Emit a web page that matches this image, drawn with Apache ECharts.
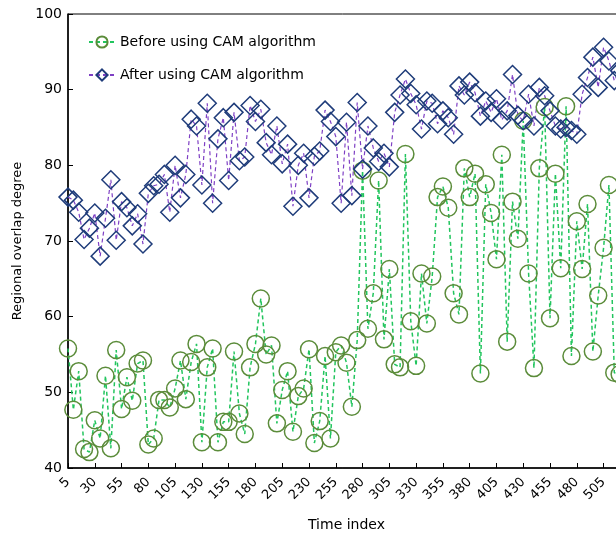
<!DOCTYPE html>
<html>
<head>
<meta charset="utf-8">
<script src="https://cdn.jsdelivr.net/npm/echarts@6/dist/echarts.min.js"></script>
<style>html,body{margin:0;padding:0;background:#fff}#c{width:616px;height:533px}</style>
</head>
<body>
<div id="c"></div>
<script>
var timeIndex = ['5','10','15','20','25','30','35','40','45','50','55','60','65','70','75','80','85','90','95','100',
'105','110','115','120','125','130','135','140','145','150','155','160','165','170','175','180','185','190','195','200',
'205','210','215','220','225','230','235','240','245','250','255','260','265','270','275','280','285','290','295','300',
'305','310','315','320','325','330','335','340','345','350','355','360','365','370','375','380','385','390','395','400',
'405','410','415','420','425','430','435','440','445','450','455','460','465','470','475','480','485','490','495','500',
'505','510','515','520','525'];

var beforeCAM = [55.8,47.7,52.8,42.5,42.1,46.3,43.9,52.2,42.6,55.6,47.8,52.0,48.9,53.8,54.2,43.1,43.9,49.0,49.0,48.0,
50.5,54.2,49.1,54.0,56.4,43.4,53.3,55.8,43.4,46.1,46.1,55.4,47.2,44.5,53.3,56.4,62.4,55.0,56.2,45.9,
50.3,52.8,44.8,49.5,50.5,55.7,43.3,46.2,54.8,43.9,55.3,56.2,53.9,48.1,56.9,79.3,58.4,63.1,78.0,57.0,
66.3,53.7,53.3,81.5,59.4,53.5,65.7,59.1,65.3,75.8,77.2,74.4,63.1,60.3,79.6,75.8,78.9,52.5,77.5,73.7,
67.6,81.4,56.7,75.2,70.3,85.9,65.7,53.2,79.6,87.7,59.8,78.9,66.4,87.8,54.8,72.6,66.3,74.9,55.4,62.8,
69.1,77.4,52.6,52.4];

var afterCAM = [75.8,75.4,73.8,70.2,71.7,73.7,68.0,73.0,78.1,70.1,75.2,74.4,72.0,73.6,69.6,76.3,77.3,77.5,78.8,73.8,
80.0,75.7,78.8,86.1,85.2,77.4,88.2,75.0,83.5,86.3,78.0,87.0,80.6,81.1,87.9,85.8,87.4,83.0,81.4,85.2,
80.2,82.8,74.6,80.0,81.6,75.7,81.2,81.9,87.3,85.8,83.8,75.0,85.7,76.0,88.3,79.5,85.2,82.3,80.5,81.6,
79.8,87.0,89.3,91.4,89.5,88.0,84.8,88.5,88.2,85.5,87.2,86.3,84.1,90.5,89.3,91.0,89.6,86.5,88.5,87.0,
88.8,86.0,87.2,92.0,86.6,85.9,89.4,85.2,90.3,89.2,87.2,85.2,84.8,85.0,84.6,84.1,89.4,91.6,94.3,90.3,
95.6,93.8,91.2,92.5];

var seriesNames = ['Before using CAM algorithm', 'After using CAM algorithm'];
var yTicks = {min: 40, max: 100, step: 10};

var FONT = 'DejaVu Sans';
var chart = echarts.init(document.getElementById('c'), null, {renderer: 'canvas'});
chart.setOption({
  animation: false,
  backgroundColor: '#fff',
  grid: {left: 68, top: 14, width: 557, height: 454, show: true, borderColor: '#000', borderWidth: 1,
         containLabel: false, outerBoundsMode: 'none'},
  legend: {
    orient: 'vertical', left: 83, top: 30, itemGap: 19, itemWidth: 26, itemHeight: 14,
    textStyle: {fontFamily: FONT, fontSize: 14, color: '#000'},
    data: seriesNames
  },
  xAxis: {
    type: 'category', data: timeIndex, boundaryGap: false,
    name: 'Time index', nameLocation: 'middle', nameGap: 50,
    nameTextStyle: {fontFamily: FONT, fontSize: 14, color: '#000'},
    axisLine: {lineStyle: {color: '#000', width: 1.5}},
    axisTick: {inside: true, length: 5, interval: 4, lineStyle: {color: '#000'}},
    axisLabel: {interval: 4, rotate: 45, fontFamily: FONT, fontSize: 13, color: '#000', margin: 12},
    splitLine: {show: false}
  },
  yAxis: {
    type: 'value', min: yTicks.min, max: yTicks.max, interval: yTicks.step,
    name: 'Regional overlap degree', nameLocation: 'middle', nameGap: 44,
    nameTextStyle: {fontFamily: FONT, fontSize: 13, color: '#000'},
    axisLine: {show: true, lineStyle: {color: '#000', width: 1.5}},
    axisTick: {show: true, inside: true, length: 5, lineStyle: {color: '#000'}},
    axisLabel: {fontFamily: FONT, fontSize: 14, color: '#000', margin: 6},
    splitLine: {show: false}
  },
  series: [
    {
      name: seriesNames[0], type: 'line', data: beforeCAM,
      symbol: 'circle', symbolSize: 17, showAllSymbol: true,
      lineStyle: {color: '#22c55e', width: 1.5, type: [4, 3]},
      itemStyle: {color: 'rgba(0,0,0,0)', borderColor: '#5b8c3a', borderWidth: 1.5}
    },
    {
      name: seriesNames[1], type: 'line', data: afterCAM,
      symbol: 'diamond', symbolSize: 18, showAllSymbol: true,
      lineStyle: {color: '#7e3fc4', width: 1.2, type: [4, 3]},
      itemStyle: {color: 'rgba(0,0,0,0)', borderColor: '#1f3c7a', borderWidth: 1.5}
    }
  ]
});
</script>
</body>
</html>
